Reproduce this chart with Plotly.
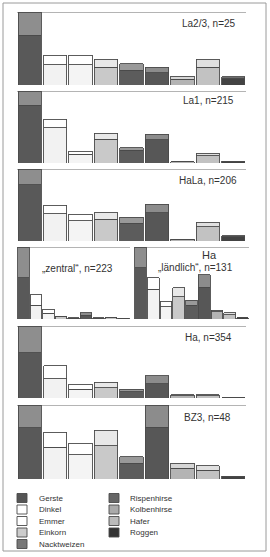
import plotly.graph_objects as go

W, H = 270, 557

crops = ["Gerste", "Dinkel", "Emmer", "Einkorn", "Nacktweizen",
         "Rispenhirse", "Kolbenhirse", "Hafer", "Roggen"]

lower_colors = ["#595959", "#f2f2f2", "#f4f4f4", "#c9c9c9", "#5c5c5c",
                "#575757", "#b4b4b4", "#c2c2c2", "#434343"]
upper_colors = ["#8e8e8e", "#ffffff", "#ffffff", "#e8e8e8", "#999999",
                "#8c8c8c", "#d6d6d6", "#e0e0e0", "#6e6e6e"]
legend_colors = ["#555555", "#ffffff", "#ffffff", "#cccccc", "#777777",
                 "#666666", "#aaaaaa", "#bbbbbb", "#333333"]

panel_labels = ["La2/3, n=25", "La1, n=215", "HaLa, n=206",
                "„zentral“, n=223", "„ländlich“, n=131",
                "Ha, n=354", "BZ3, n=48"]

# percentages: lower (dark) part and total height of each bar
la23_lower = [68, 28, 28, 24, 20, 17, 8, 24, 9]
la23_total = [100, 41, 41, 35, 29, 24, 12, 35, 11]

la1_lower = [80, 49, 12, 33, 18, 32, 1.5, 10, 2]
la1_total = [100, 61, 16, 41, 21, 40, 2, 13.5, 2.5]

hala_lower = [78, 38, 28, 30, 25, 39, 2, 20, 6]
hala_total = [100, 50, 37.5, 39, 33, 51, 2.5, 26, 7]

zentral_lower = [57, 19, 8, 3, 1.2, 5.5, 1, 2, 0.8]
zentral_total = [100, 34, 13.5, 4, 1.5, 9, 1.5, 2.5, 1]

laendlich_lower = [71, 41, 17, 31, 19, 44, 10, 6, 1.6]
laendlich_total = [100, 57, 24.5, 43.5, 26, 61.5, 12, 9, 2]

ha_lower = [63, 27, 12, 14, 9, 20, 3, 3, 0.4]
ha_total = [100, 44.5, 19, 22, 12, 31, 4.5, 4.5, 0.6]

bz3_lower = [69, 43, 33, 45, 21, 70, 14.5, 12, 3.5]
bz3_total = [100, 63, 48, 66, 30, 100, 21, 18, 4]

panels_lower = [la23_lower, la1_lower, hala_lower, zentral_lower,
                laendlich_lower, ha_lower, bz3_lower]
panels_total = [la23_total, la1_total, hala_total, zentral_total,
                laendlich_total, ha_total, bz3_total]

# panel geometry in pixels: x0, x1, ytop, ybottom
geom = [(17, 246, 12, 85), (17, 246, 91, 163), (17, 246, 169, 241),
        (17, 130, 247, 319), (134, 249, 247, 319),
        (17, 246, 326, 398), (17, 246, 405, 479)]
label_pos = [(238, 24, "right"), (236, 101, "right"), (239, 180, "right"),
             (78, 268, "center"), (195, 267, "center"),
             (234, 337, "right"), (233, 417, "right")]

FONT = "Liberation Sans, Arial, sans-serif"

fig = go.Figure()
layout = dict(width=W, height=H, margin=dict(l=0, r=0, t=0, b=0),
              paper_bgcolor="white", plot_bgcolor="white",
              showlegend=False, barmode="stack", bargap=0.085)
shapes = []
annotations = []

for i, (lo, tot) in enumerate(zip(panels_lower, panels_total)):
    n = i + 1
    xa = "x" if n == 1 else f"x{n}"
    ya = "y" if n == 1 else f"y{n}"
    up = [t - l for t, l in zip(tot, lo)]
    fig.add_trace(go.Bar(x=list(range(9)), y=lo, xaxis=xa, yaxis=ya,
                         marker=dict(color=lower_colors,
                                     line=dict(color="#4a4a4a", width=0.9)),
                         hoverinfo="skip"))
    fig.add_trace(go.Bar(x=list(range(9)), y=up, xaxis=xa, yaxis=ya,
                         marker=dict(color=upper_colors,
                                     line=dict(color="#4a4a4a", width=0.9)),
                         hoverinfo="skip"))
    x0, x1, yt, yb = geom[i]
    kx = "xaxis" if n == 1 else f"xaxis{n}"
    ky = "yaxis" if n == 1 else f"yaxis{n}"
    layout[kx] = dict(domain=[x0 / W, x1 / W], range=[-0.5, 8.5],
                      visible=False, anchor=ya, fixedrange=True)
    layout[ky] = dict(domain=[1 - yb / H, 1 - yt / H], range=[0, 100],
                      visible=False, anchor=xa, fixedrange=True)
    shapes.append(dict(type="line", xref=xa, yref=ya, x0=-0.5, x1=8.5,
                       y0=100, y1=100, line=dict(color="#6a6a6a", width=1),
                       layer="below"))
    lx, ly, anc = label_pos[i]
    annotations.append(dict(text=panel_labels[i], xref="paper", yref="paper",
                            x=lx / W, y=1 - ly / H, xanchor=anc,
                            yanchor="middle", showarrow=False,
                            font=dict(family=FONT, size=10, color="#333333")))

annotations.append(dict(text="Ha", xref="paper", yref="paper",
                        x=209 / W, y=1 - 255 / H, xanchor="center",
                        yanchor="middle", showarrow=False,
                        font=dict(family=FONT, size=11, color="#333333")))

# outer frame
shapes.append(dict(type="rect", xref="paper", yref="paper",
                   x0=3 / W, x1=266 / W, y0=1 - 551 / H, y1=1 - 3 / H,
                   line=dict(color="#9a9a9a", width=1)))

# legend (two columns)
rows_y = [498, 509.5, 521, 532.5, 544]
for j, name in enumerate(crops):
    col = 0 if j < 5 else 1
    row = j if j < 5 else j - 5
    sx = 17 if col == 0 else 109
    tx = 37 if col == 0 else 128
    cy = rows_y[row]
    shapes.append(dict(type="rect", xref="paper", yref="paper",
                       x0=sx / W, x1=(sx + 10) / W,
                       y0=1 - (cy + 4.5) / H, y1=1 - (cy - 4.5) / H,
                       fillcolor=legend_colors[j],
                       line=dict(color="#4a4a4a", width=0.9)))
    annotations.append(dict(text=name, xref="paper", yref="paper",
                            x=tx / W, y=1 - cy / H, xanchor="left",
                            yanchor="middle", showarrow=False,
                            font=dict(family=FONT, size=8, color="#333333")))

layout["shapes"] = shapes
layout["annotations"] = annotations
fig.update_layout(**layout)
fig.write_html("out.html", config={"displayModeBar": False})
